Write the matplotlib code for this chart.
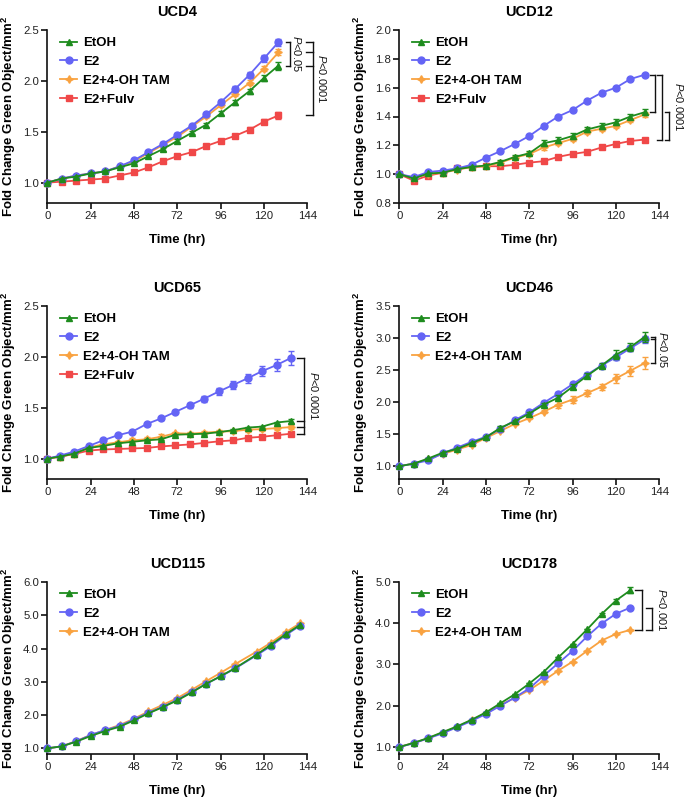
import matplotlib
matplotlib.use("Agg")
import matplotlib.pyplot as plt
from matplotlib.ticker import FormatStrFormatter, MultipleLocator

plt.rcParams["font.family"] = "Liberation Sans"
plt.rcParams["mathtext.fontset"] = "custom"
plt.rcParams["mathtext.rm"] = "Liberation Sans"
plt.rcParams["mathtext.it"] = "Liberation Sans:italic"
plt.rcParams["mathtext.bf"] = "Liberation Sans:bold"

# ---------------- data ----------------
# UCD4
ucd4_time = [0, 8, 16, 24, 32, 40, 48, 56, 64, 72, 80, 88, 96, 104, 112, 120, 128]
ucd4_etoh = [1.00, 1.04, 1.06, 1.09, 1.11, 1.15, 1.19, 1.26, 1.33, 1.41, 1.49, 1.57, 1.68, 1.79, 1.90, 2.03, 2.15]
ucd4_etoh_err = [0, .01, .01, .01, .01, .01, .01, .01, .015, .015, .015, .02, .02, .025, .025, .03, .04]
ucd4_e2 = [1.00, 1.04, 1.07, 1.09, 1.11, 1.16, 1.22, 1.30, 1.38, 1.47, 1.56, 1.67, 1.79, 1.92, 2.06, 2.22, 2.38]
ucd4_e2_err = [0, .01, .01, .01, .01, .01, .01, .01, .015, .015, .015, .015, .02, .025, .03, .03, .035]
ucd4_tam = [1.00, 1.04, 1.07, 1.09, 1.11, 1.16, 1.21, 1.29, 1.37, 1.45, 1.55, 1.65, 1.76, 1.87, 1.98, 2.12, 2.28]
ucd4_tam_err = [0, .01, .01, .01, .01, .01, .01, .01, .015, .015, .015, .015, .02, .02, .025, .025, .03]
ucd4_fulv = [1.00, 1.01, 1.02, 1.03, 1.04, 1.07, 1.10, 1.15, 1.21, 1.26, 1.30, 1.36, 1.41, 1.46, 1.52, 1.60, 1.66]
ucd4_fulv_err = [0, .01, .01, .01, .01, .01, .01, .01, .015, .015, .015, .015, .02, .02, .025, .025, .03]

# UCD12
ucd12_time = [0, 8, 16, 24, 32, 40, 48, 56, 64, 72, 80, 88, 96, 104, 112, 120, 128, 136]
ucd12_etoh = [1.00, 0.97, 1.005, 1.01, 1.035, 1.05, 1.06, 1.085, 1.12, 1.145, 1.215, 1.235, 1.265, 1.31, 1.335, 1.36, 1.40, 1.43]
ucd12_etoh_err = [0, .005, .005, .005, .005, .005, .01, .01, .01, .015, .02, .02, .02, .02, .02, .02, .015, .02]
ucd12_e2 = [1.00, 0.98, 1.015, 1.025, 1.04, 1.065, 1.115, 1.16, 1.21, 1.265, 1.335, 1.40, 1.445, 1.51, 1.565, 1.60, 1.66, 1.69]
ucd12_e2_err = [0, .005, .005, .005, .005, .005, .005, .005, .005, .005, .005, .005, .005, .005, .005, .005, .005, .005]
ucd12_tam = [1.00, 0.975, 1.00, 1.01, 1.03, 1.05, 1.055, 1.08, 1.115, 1.14, 1.185, 1.215, 1.245, 1.295, 1.315, 1.335, 1.375, 1.415]
ucd12_tam_err = [0, .005, .005, .005, .005, .005, .01, .01, .01, .015, .015, .015, .015, .015, .015, .015, .01, .015]
ucd12_fulv = [1.00, 0.955, 0.99, 1.01, 1.04, 1.05, 1.055, 1.055, 1.065, 1.08, 1.09, 1.12, 1.14, 1.155, 1.185, 1.21, 1.23, 1.24]
ucd12_fulv_err = [0, .005, .005, .005, .005, .005, .005, .005, .005, .005, .005, .005, .005, .005, .005, .005, .005, .005]

# UCD65
ucd65_time = [0, 7, 15, 23, 31, 39, 47, 55, 63, 71, 79, 87, 95, 103, 111, 119, 127, 135]
ucd65_etoh = [1.00, 1.02, 1.05, 1.105, 1.125, 1.15, 1.165, 1.18, 1.19, 1.235, 1.24, 1.245, 1.26, 1.28, 1.305, 1.315, 1.355, 1.37]
ucd65_etoh_err = [0, .005, .01, .01, .01, .01, .01, .01, .01, .01, .01, .01, .01, .01, .01, .01, .01, .015]
ucd65_e2 = [1.00, 1.03, 1.07, 1.125, 1.18, 1.23, 1.265, 1.34, 1.395, 1.46, 1.525, 1.59, 1.66, 1.725, 1.79, 1.86, 1.92, 1.99]
ucd65_e2_err = [0, .01, .01, .01, .01, .01, .015, .015, .015, .015, .025, .03, .035, .04, .045, .05, .055, .065]
ucd65_tam = [1.00, 1.02, 1.05, 1.11, 1.14, 1.16, 1.18, 1.19, 1.215, 1.25, 1.245, 1.255, 1.265, 1.27, 1.285, 1.29, 1.30, 1.31]
ucd65_tam_err = [0, .005, .01, .01, .01, .01, .02, .02, .03, .015, .015, .015, .015, .015, .02, .02, .02, .02]
ucd65_fulv = [1.00, 1.02, 1.045, 1.08, 1.09, 1.095, 1.10, 1.105, 1.12, 1.13, 1.14, 1.155, 1.17, 1.18, 1.205, 1.215, 1.23, 1.245]
ucd65_fulv_err = [0, .005, .005, .01, .01, .01, .01, .01, .01, .01, .01, .01, .01, .01, .01, .01, .01, .01]

# UCD46
ucd46_time = [0, 8, 16, 24, 32, 40, 48, 56, 64, 72, 80, 88, 96, 104, 112, 120, 128, 136]
ucd46_etoh = [1.00, 1.04, 1.12, 1.21, 1.27, 1.36, 1.45, 1.60, 1.70, 1.82, 1.96, 2.07, 2.24, 2.41, 2.57, 2.74, 2.86, 3.02]
ucd46_etoh_err = [0, .01, .01, .015, .015, .02, .02, .02, .02, .03, .03, .04, .04, .04, .04, .07, .06, .08]
ucd46_e2 = [1.00, 1.04, 1.09, 1.20, 1.29, 1.38, 1.46, 1.58, 1.72, 1.84, 1.99, 2.13, 2.28, 2.43, 2.57, 2.70, 2.84, 2.98]
ucd46_e2_err = [0, .01, .01, .01, .01, .01, .015, .015, .02, .02, .02, .03, .03, .03, .03, .04, .04, .05]
ucd46_tam = [1.00, 1.04, 1.11, 1.19, 1.26, 1.33, 1.44, 1.55, 1.66, 1.75, 1.85, 1.96, 2.04, 2.14, 2.24, 2.37, 2.49, 2.61]
ucd46_tam_err = [0, .01, .01, .01, .015, .015, .02, .02, .02, .02, .02, .05, .05, .05, .05, .07, .08, .09]

# UCD115
ucd115_time = [0, 8, 16, 24, 32, 40, 48, 56, 64, 72, 80, 88, 96, 104, 116, 124, 132, 140]
ucd115_etoh = [1.00, 1.06, 1.20, 1.37, 1.52, 1.65, 1.84, 2.05, 2.24, 2.44, 2.68, 2.94, 3.17, 3.41, 3.82, 4.12, 4.43, 4.71]
ucd115_e2 = [1.00, 1.06, 1.21, 1.40, 1.55, 1.67, 1.87, 2.07, 2.25, 2.46, 2.70, 2.94, 3.16, 3.40, 3.80, 4.08, 4.40, 4.69]
ucd115_tam = [1.00, 1.06, 1.22, 1.40, 1.55, 1.70, 1.89, 2.11, 2.31, 2.51, 2.76, 3.02, 3.27, 3.53, 3.91, 4.18, 4.49, 4.76]

# UCD178
ucd178_time = [0, 8, 16, 24, 32, 40, 48, 56, 64, 72, 80, 88, 96, 104, 112, 120, 128]
ucd178_etoh = [1.00, 1.10, 1.22, 1.36, 1.50, 1.66, 1.84, 2.06, 2.28, 2.54, 2.82, 3.17, 3.50, 3.85, 4.22, 4.55, 4.80]
ucd178_etoh_err = [0, 0, 0, 0, 0, 0, 0, 0, 0, 0, 0, 0, 0, 0, .02, .03, .07]
ucd178_e2 = [1.00, 1.09, 1.21, 1.33, 1.48, 1.63, 1.80, 2.00, 2.20, 2.42, 2.73, 3.03, 3.33, 3.68, 3.99, 4.23, 4.38]
ucd178_tam = [1.00, 1.10, 1.21, 1.35, 1.49, 1.65, 1.82, 2.02, 2.19, 2.38, 2.61, 2.85, 3.07, 3.33, 3.58, 3.74, 3.84]

x_ticks = [0, 24, 48, 72, 96, 120, 144]

# ---------------- styles ----------------
style = {
    "EtOH": dict(color="#1e8c1e", marker="^", ms=5, z=6),
    "E2": dict(color="#6464f5", marker="o", ms=5, z=5),
    "E2+4-OH TAM": dict(color="#f9a240", marker=(4, 1, 0), ms=5.5, z=4),
    "E2+Fulv": dict(color="#f04848", marker="s", ms=5, z=3),
}

# brackets: (x tick start, x vertical, groups whose last values set the ticks)
panels = [
    dict(title="UCD4", time=ucd4_time,
         series=[("EtOH", ucd4_etoh, ucd4_etoh_err), ("E2", ucd4_e2, ucd4_e2_err),
                 ("E2+4-OH TAM", ucd4_tam, ucd4_tam_err), ("E2+Fulv", ucd4_fulv, ucd4_fulv_err)],
         ylim=(0.8, 2.5), ystep=0.5,
         brackets=[(132.4, 134.2, ["E2", "EtOH"]),
                   (143.5, 147.2, ["E2", "E2+4-OH TAM", "EtOH", "E2+Fulv"])],
         ptext=[(138.3, ["E2", "EtOH"], "0.05"), (152.3, ["E2", "E2+Fulv"], "0.0001")]),
    dict(title="UCD12", time=ucd12_time,
         series=[("EtOH", ucd12_etoh, ucd12_etoh_err), ("E2", ucd12_e2, ucd12_e2_err),
                 ("E2+4-OH TAM", ucd12_tam, ucd12_tam_err), ("E2+Fulv", ucd12_fulv, ucd12_fulv_err)],
         ylim=(0.8, 2.0), ystep=0.2,
         brackets=[(138.8, 141.6, ["E2", "EtOH"]),
                   (142.7, 145.5, ["E2", "E2+Fulv"]),
                   (147.0, 149.4, ["EtOH", "E2+Fulv"])],
         ptext=[(154.8, ["E2", "E2+Fulv"], "0.0001")]),
    dict(title="UCD65", time=ucd65_time,
         series=[("EtOH", ucd65_etoh, ucd65_etoh_err), ("E2", ucd65_e2, ucd65_e2_err),
                 ("E2+4-OH TAM", ucd65_tam, ucd65_tam_err), ("E2+Fulv", ucd65_fulv, ucd65_fulv_err)],
         ylim=(0.8, 2.5), ystep=0.5,
         brackets=[(138.4, 142.0, ["E2", "EtOH", "E2+4-OH TAM", "E2+Fulv"])],
         ptext=[(147.7, ["E2", "E2+Fulv"], "0.0001")]),
    dict(title="UCD46", time=ucd46_time,
         series=[("EtOH", ucd46_etoh, ucd46_etoh_err), ("E2", ucd46_e2, ucd46_e2_err),
                 ("E2+4-OH TAM", ucd46_tam, ucd46_tam_err)],
         ylim=(0.8, 3.5), ystep=0.5,
         brackets=[(139.2, 141.6, ["EtOH", "E2", "E2+4-OH TAM"])],
         ptext=[(146.0, ["EtOH", "E2+4-OH TAM"], "0.05")]),
    dict(title="UCD115", time=ucd115_time,
         series=[("EtOH", ucd115_etoh, None), ("E2", ucd115_e2, None),
                 ("E2+4-OH TAM", ucd115_tam, None)],
         ylim=(0.83, 6.0), ystep=1.0,
         brackets=[], ptext=[]),
    dict(title="UCD178", time=ucd178_time,
         series=[("EtOH", ucd178_etoh, ucd178_etoh_err), ("E2", ucd178_e2, None),
                 ("E2+4-OH TAM", ucd178_tam, None)],
         ylim=(0.83, 5.0), ystep=1.0,
         brackets=[(130.8, 134.4, ["EtOH", "E2+4-OH TAM"]),
                   (136.4, 140.0, ["E2", "E2+4-OH TAM"])],
         ptext=[(145.3, ["EtOH", "E2+4-OH TAM"], "0.001")]),
]

W, H = 685, 802
fig = plt.figure(figsize=(W / 100, H / 100), dpi=100)

col_x = [47.3, 399.3]
row_y = [(30, 203), (306, 479), (582, 754)]
ax_w = 260

for i, p in enumerate(panels):
    left = col_x[i % 2]
    top, bottom = row_y[i // 2]
    ax = fig.add_axes([left / W, 1 - bottom / H, ax_w / W, (bottom - top) / H])

    last = {}
    handles = []
    for name, vals, err in p["series"]:
        st = style[name]
        if err is not None:
            ax.errorbar(p["time"], vals, yerr=err, fmt="none", ecolor=st["color"],
                        elinewidth=1.0, capsize=2.3, capthick=1.0, zorder=st["z"], clip_on=False)
        ln, = ax.plot(p["time"], vals, color=st["color"], marker=st["marker"], ms=st["ms"],
                      lw=1.3, label=name, zorder=st["z"], clip_on=False)
        handles.append(ln)
        last[name] = vals[-1]

    for x0, x1, groups in p["brackets"]:
        ys = [last[g] for g in groups]
        ax.plot([x1, x1], [min(ys), max(ys)], color="#111111", lw=1.0, clip_on=False)
        for y in ys:
            ax.plot([x0, x1], [y, y], color="#111111", lw=1.0, clip_on=False)

    for x, groups, val in p["ptext"]:
        ys = [last[g] for g in groups]
        ax.text(x, (ys[0] + ys[1]) / 2, r"$\mathit{P}$<" + val, rotation=-90,
                ha="center", va="center", fontsize=8, color="#111111")

    ax.set_xlim(0, 144)
    ax.set_ylim(*p["ylim"])
    ax.set_xticks(x_ticks)
    ax.yaxis.set_major_locator(MultipleLocator(p["ystep"]))
    ax.yaxis.set_major_formatter(FormatStrFormatter("%.1f"))
    yt = [t for t in ax.get_yticks() if p["ylim"][0] - 1e-6 <= t <= p["ylim"][1] + 1e-6]
    if p["ylim"][0] < 1.0 and p["ystep"] != 0.2:
        yt = [t for t in yt if t >= 1.0 - 1e-6]
    ax.set_yticks(yt)
    ax.set_ylim(*p["ylim"])

    for s in ["top", "right"]:
        ax.spines[s].set_visible(False)
    for s in ["left", "bottom"]:
        ax.spines[s].set_linewidth(1.2)
        ax.spines[s].set_color("#111111")
    ax.tick_params(direction="out", length=4, width=1.2, labelsize=8.2, pad=2,
                   colors="#111111", labelcolor="#222222")

    ax.set_title(p["title"], fontsize=10.5, weight="bold", pad=10)
    ax.set_xlabel("Time (hr)", fontsize=9.5, weight="bold", labelpad=9)
    ax.set_ylabel(r"Fold Change Green Object/mm$^{\mathbf{2}}$", fontsize=9.5,
                  weight="bold", labelpad=4)

    ax.legend(handles=handles, loc="upper left", bbox_to_anchor=(0.05, 0.96),
              frameon=False, prop=dict(weight="bold", size=9.5), handlelength=1.3,
              handletextpad=0.4, labelspacing=0.5, borderaxespad=0, borderpad=0)

fig.savefig("out.png", dpi=100)
